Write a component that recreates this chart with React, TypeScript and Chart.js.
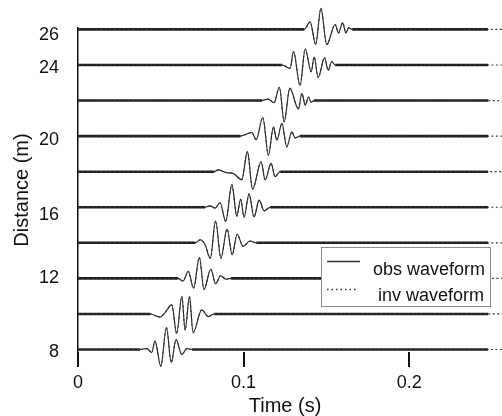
import { useEffect, useRef } from 'react';
import { Chart, registerables } from 'chart.js';

Chart.register(...registerables);

// Trace distances (m)
const distances = [8, 10, 12, 14, 16, 18, 20, 22, 24, 26];

// Wavelet samples: time (s) and amplitude (m, relative to trace baseline)
const t8 = [0.0375, 0.0417, 0.0445, 0.0465, 0.05, 0.0534, 0.0563, 0.0592, 0.0627, 0.0657, 0.0689];
const a8 = [0, 0.05, -0.17, 0.47, -0.94, 1.24, -0.73, 0.56, -0.28, 0.05, 0];
const t10 = [0.0435, 0.0495, 0.0526, 0.0566, 0.0596, 0.0627, 0.0647, 0.0673, 0.0695, 0.0747, 0.0787, 0.0822];
const a10 = [0, -0.17, 0.08, 0.51, -1.1, 0.98, -0.9, 0.98, -1.05, 0.23, -0.15, 0];
const t12 = [0.0604, 0.0634, 0.0666, 0.0698, 0.0733, 0.0761, 0.0802, 0.0831, 0.0861, 0.0894, 0.0924];
const a12 = [0, -0.15, 0.4, -0.55, 1.17, -0.62, 0.51, -0.3, 0.15, -0.05, 0];
const t14 = [0.0707, 0.0737, 0.0767, 0.0799, 0.0831, 0.0863, 0.09, 0.0931, 0.0961, 0.0997, 0.1039, 0.1076];
const a14 = [0, 0.17, -0.1, -0.87, 1.23, -0.87, 0.77, -0.67, 0.48, -0.2, 0.1, 0];
const t16 = [0.0767, 0.0798, 0.0828, 0.0858, 0.0892, 0.0929, 0.0959, 0.0982, 0.1003, 0.1033, 0.1063, 0.1094, 0.1124, 0.116];
const a16 = [0, 0.08, -0.05, 0.25, -0.8, 1.27, -0.5, 0.45, -0.55, 0.75, -0.55, 0.4, -0.2, 0];
const t18 = [0.0822, 0.0846, 0.0894, 0.0937, 0.0989, 0.1023, 0.1054, 0.1106, 0.113, 0.1166, 0.119, 0.1221];
const a18 = [0, 0.1, -0.05, -0.1, -0.45, 1.13, -0.98, 0.56, -0.47, 0.47, -0.28, 0];
const t20 = [0.0979, 0.105, 0.1076, 0.1116, 0.115, 0.118, 0.1201, 0.1231, 0.1261, 0.1291, 0.1311, 0.1341];
const a20 = [0, 0.2, -0.2, 1.05, -1.07, 0.52, -0.23, 0.72, -0.6, 0.24, -0.1, 0];
const t22 = [0.1112, 0.1148, 0.1184, 0.1216, 0.1245, 0.1279, 0.1331, 0.1352, 0.1372, 0.1392, 0.1408, 0.1426];
const a22 = [0, 0.08, -0.12, 0.75, -1.19, 0.7, -0.47, 0.4, -0.25, 0.2, -0.1, 0];
const t24 = [0.1233, 0.1281, 0.1301, 0.1341, 0.1372, 0.1408, 0.1426, 0.145, 0.1489, 0.1511, 0.1532, 0.1553];
const a24 = [0, -0.19, 0.75, -1.15, 0.9, -0.38, 0.45, -0.7, 0.41, -0.3, 0.2, 0];
const t26 = [0.1366, 0.1402, 0.1435, 0.1467, 0.1502, 0.1553, 0.1573, 0.1598, 0.1618, 0.1634, 0.1656];
const a26 = [0, 0.43, -0.85, 1.19, -0.85, 0.28, -0.2, 0.37, -0.2, 0.1, 0];

const waveTimes = [t8, t10, t12, t14, t16, t18, t20, t22, t24, t26];
const waveAmps = [a8, a10, a12, a14, a16, a18, a20, a22, a24, a26];

const traceStart = 0;
const obsEnd = 0.2477;
const invEnd = 0.257;

const xTickValues = [0, 0.1, 0.2];
const yTickValues = [7.87, 12.02, 15.56, 19.78, 23.83, 25.69];
const yTickLabels = ['8', '12', '16', '20', '24', '26'];
const legendLabels = ['obs waveform', 'inv waveform'];

const FONT = '"Liberation Sans", Arial, Helvetica, sans-serif';

const legendPlugin = {
  id: 'boxLegend',
  afterDraw(chart: any) {
    const ctx = chart.ctx as CanvasRenderingContext2D;
    const left = 321, top = 247, w = 170, h = 60;
    ctx.save();
    ctx.fillStyle = '#ffffff';
    ctx.fillRect(left, top, w, h);
    ctx.strokeStyle = '#8a8a8a';
    ctx.lineWidth = 1;
    ctx.strokeRect(left + 0.5, top + 0.5, w - 1, h - 1);
    // solid sample
    ctx.strokeStyle = '#333';
    ctx.lineWidth = 1.5;
    ctx.beginPath();
    ctx.moveTo(327, 261.5);
    ctx.lineTo(360, 261.5);
    ctx.stroke();
    // dotted sample
    ctx.setLineDash([1.5, 3]);
    ctx.beginPath();
    ctx.moveTo(327, 289.5);
    ctx.lineTo(357, 289.5);
    ctx.stroke();
    ctx.setLineDash([]);
    ctx.fillStyle = '#111';
    ctx.font = `18px ${FONT}`;
    ctx.textAlign = 'right';
    ctx.textBaseline = 'alphabetic';
    ctx.fillText(legendLabels[0], 485, 275);
    ctx.fillText(legendLabels[1], 484, 301);
    ctx.restore();
  },
};

export default function App() {
  const ref = useRef<HTMLCanvasElement | null>(null);

  useEffect(() => {
    if (!ref.current) return;
    const datasets: any[] = [];
    distances.forEach((d, i) => {
      const wave = waveTimes[i].map((t, j) => ({ x: t, y: d + waveAmps[i][j] }));
      datasets.push({
        label: legendLabels[1],
        data: [{ x: traceStart, y: d }, ...wave, { x: invEnd, y: d }],
        borderColor: '#3a3a3a',
        borderWidth: 1.2,
        borderDash: [2, 2.5],
        pointRadius: 0,
        cubicInterpolationMode: 'monotone',
        clip: false,
        order: 0,
      });
      datasets.push({
        label: legendLabels[0],
        data: [{ x: traceStart, y: d }, ...wave, { x: obsEnd, y: d }],
        borderColor: '#1c1c1c',
        borderWidth: 1.1,
        pointRadius: 0,
        cubicInterpolationMode: 'monotone',
        clip: false,
        order: 1,
        segment: {
          borderWidth: (ctx: any) => (ctx.p0.parsed.y === d && ctx.p1.parsed.y === d ? 2.6 : 1.1),
        },
      });
    });

    const chart = new Chart(ref.current, {
      type: 'line',
      data: { datasets },
      plugins: [legendPlugin],
      options: {
        animation: false,
        responsive: false,
        maintainAspectRatio: false,
        events: [],
        layout: { padding: { top: 28, right: 10, bottom: 0, left: 0 } },
        plugins: { legend: { display: false }, tooltip: { enabled: false } },
        scales: {
          x: {
            type: 'linear',
            min: 0,
            max: 0.25,
            afterBuildTicks: (s: any) => {
              s.ticks = xTickValues.map((v) => ({ value: v }));
            },
            afterFit: (s: any) => {
              s.height = 64;
            },
            ticks: {
              autoSkip: false,
              maxRotation: 0,
              padding: 5,
              color: '#111',
              font: { family: FONT, size: 18 },
              callback: (v: any) => String(v),
            },
            grid: { display: true, drawOnChartArea: false, drawTicks: true, tickLength: 15, color: '#111', lineWidth: 2 },
            border: { display: false },
            title: {
              display: true,
              text: 'Time (s)',
              color: '#111',
              font: { family: FONT, size: 20, lineHeight: 1 },
              padding: { top: 0, bottom: 0 },
            },
          },
          y: {
            type: 'linear',
            min: 7.86,
            max: 26.08,
            afterBuildTicks: (s: any) => {
              s.ticks = yTickValues.map((v) => ({ value: v }));
            },
            afterFit: (s: any) => {
              s.width = 78;
            },
            ticks: {
              autoSkip: false,
              padding: 11,
              color: '#111',
              font: { family: FONT, size: 18 },
              callback: (_v: any, i: number) => yTickLabels[i],
            },
            grid: { display: false },
            border: { display: true, color: '#111', width: 1.5 },
            title: {
              display: true,
              text: 'Distance (m)',
              color: '#111',
              font: { family: FONT, size: 20, lineHeight: 1 },
              padding: { top: 12, bottom: 0 },
            },
          },
        },
      },
    } as any);
    return () => chart.destroy();
  }, []);

  return (
    <div style={{ position: 'absolute', left: 0, top: 0, width: 502, height: 416, background: '#fff' }}>
      <canvas ref={ref} width={502} height={416} style={{ display: 'block' }} />
    </div>
  );
}
